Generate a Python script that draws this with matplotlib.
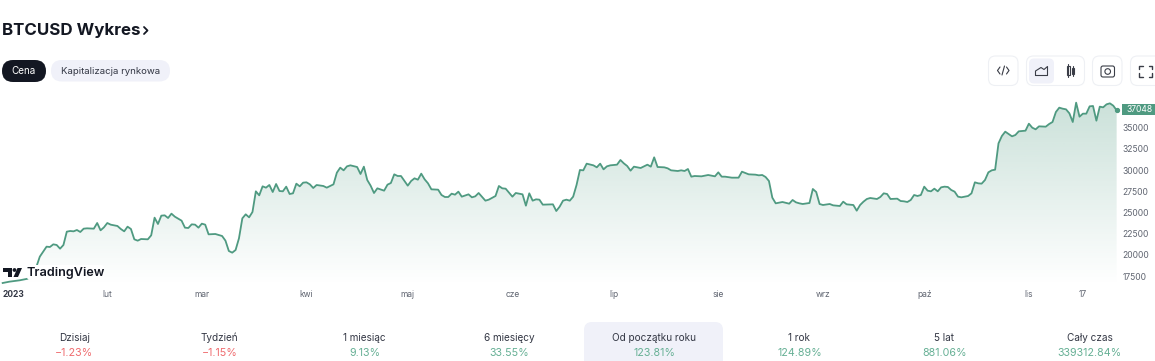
import numpy as np
import matplotlib
matplotlib.use("Agg")
import matplotlib.pyplot as plt
from matplotlib.patches import FancyBboxPatch, Polygon, Circle, Rectangle

plt.rcParams["font.family"] = ["Inter", "DejaVu Sans"]

# day of 2023 (1 Jan = 0) and BTCUSD price
days = [0, 2, 5, 8, 10, 11, 13, 14, 15, 16, 17, 18, 19, 20, 21, 22, 23, 24, 25, 27, 28, 29, 30, 31, 32, 34, 35, 36, 37, 38,
        39, 40, 41, 43, 44, 45, 46, 47, 48, 49, 50, 51, 53, 54, 55, 56, 57, 58, 59, 60, 61, 63, 65, 66, 67, 68, 69, 70, 71, 72,
        73, 74, 75, 76, 77, 78, 79, 80, 81, 82, 83, 84, 85, 86, 87, 88, 89, 90, 91, 92, 93, 95, 96, 98, 99, 100, 101, 102, 103, 105,
        106, 107, 108, 109, 110, 111, 113, 114, 115, 116, 117, 118, 120, 121, 122, 123, 124, 125, 126, 127, 129, 130, 131, 132, 133, 134, 135, 136, 138, 139,
        140, 141, 143, 144, 146, 147, 148, 149, 151, 152, 154, 155, 156, 157, 158, 159, 160, 163, 164, 165, 166, 167, 168, 169, 170, 171, 172, 173, 175, 176,
        177, 178, 179, 180, 182, 183, 184, 185, 186, 187, 189, 191, 192, 193, 194, 196, 197, 198, 200, 201, 202, 203, 204, 205, 207, 209, 211, 212, 213, 214,
        216, 218, 219, 220, 221, 223, 224, 225, 226, 227, 228, 229, 231, 233, 234, 235, 236, 237, 239, 240, 241, 242, 243, 245, 246, 248, 249, 250, 252, 253,
        254, 255, 256, 257, 259, 260, 261, 262, 263, 265, 266, 267, 268, 269, 270, 271, 272, 273, 274, 275, 276, 277, 278, 279, 280, 281, 282, 283, 284, 286,
        287, 288, 289, 290, 291, 292, 293, 294, 295, 296, 297, 298, 299, 300, 301, 303, 304, 305, 306, 307, 309, 310, 311, 312, 313, 314, 315, 316, 317, 318,
        319, 320, 321, 322, 323, 324, 325, 326, 327, 328, 329, 330]
prices = [16686, 16843, 17001, 17236, 18612, 19791, 20970, 20931, 21245, 21167, 20734, 21167, 22739, 22817, 22778, 22935, 22699, 23092, 23131, 23092, 23760, 22896, 23249, 23760, 23564, 23407, 23053, 22778, 23328, 23053,
          21835, 21677, 21874, 21835, 22306, 24389, 23642, 24625, 24664, 24350, 24860, 24507, 24035, 23210, 23171, 23603, 23564, 23210, 23682, 23564, 22424, 22463, 22228, 21677, 20459, 20263, 20577, 21953, 24310, 24782,
          24428, 25057, 27494, 27022, 28083, 27926, 28240, 27415, 28358, 27533, 27494, 28044, 27180, 27258, 28398, 28083, 28516, 28555, 28319, 27887, 28240, 28123, 27926, 28319, 29695, 30284, 29970, 30441, 30559, 30363,
          29537, 30402, 28830, 28162, 27297, 27847, 27572, 28280, 28476, 29498, 29302, 29302, 28162, 28712, 29027, 28869, 29577, 28909, 28437, 27730, 27690, 27061, 26826, 26826, 27219, 27101, 27455, 26865, 27140, 26786,
          26904, 27297, 26393, 26511, 26944, 28123, 27847, 27808, 26865, 27297, 27140, 25804, 27258, 26393, 26550, 26511, 25922, 25961, 25175, 25686, 26393, 26511, 26393, 26865, 28240, 30009, 29970, 30756, 30559, 30323,
          30756, 30087, 30441, 30559, 30638, 31188, 30795, 30481, 29930, 30402, 30245, 30638, 30402, 31502, 30363, 30323, 30206, 29970, 29891, 29970, 29891, 30127, 29223, 29302, 29262, 29420, 29262, 29734, 29223, 29223,
          29105, 29105, 29813, 29655, 29498, 29459, 29380, 29420, 29184, 28712, 26747, 26079, 26236, 26039, 26472, 26197, 26079, 26000, 26118, 27769, 27415, 26000, 25882, 26000, 25843, 25765, 26275, 25961, 25882, 25214,
          25882, 26275, 26590, 26708, 26590, 26826, 27258, 27180, 26590, 26629, 26354, 26315, 26236, 26472, 27061, 26944, 27061, 28044, 27572, 27494, 27808, 27494, 27965, 28044, 28005, 27651, 27455, 26865, 26786, 26944,
          27258, 28555, 28437, 28398, 28830, 29734, 29970, 30048, 33153, 34018, 34529, 34254, 33978, 34136, 34568, 34647, 35472, 35000, 34804, 35157, 35118, 35432, 35668, 36847, 37358, 37240, 37162, 36690, 35668, 37948,
          36297, 36651, 36651, 37515, 37555, 35825, 37476, 37397, 37751, 37869, 37594, 37048]

month_ticks = [0, 31, 59, 90, 120, 151, 181, 212, 243, 273, 304, 320]
month_labels = ["2023", "lut", "mar", "kwi", "maj", "cze", "lip", "sie", "wrz", "paź", "lis", "17"]
price_ticks = [17500, 20000, 22500, 25000, 27500, 30000, 32500, 35000]

stat_names = ["Dzisiaj", "Tydzień", "1 miesiąc", "6 miesięcy", "Od początku roku", "1 rok", "5 lat", "Cały czas"]
stat_values = ["−1.23%", "−1.15%", "9.13%", "33.55%", "123.81%", "124.89%", "881.06%", "339312.84%"]

GREEN = "#4f9a81"
W, H = 1155, 361

fig = plt.figure(figsize=(W / 100, H / 100), dpi=100)

# chart axes, placed in pixels
ax = fig.add_axes([0, 1 - 285 / H, 1118 / W, 185 / H])
x0, x1 = -0.79, 330.4
y0, y1 = 16450, 38262

# gradient under the line, clipped to the price area
grad = np.zeros((256, 2, 4))
grad[..., :3] = matplotlib.colors.to_rgb(GREEN)
grad[..., 3] = np.linspace(0.30, 0.0, 256)[:, None]
im = ax.imshow(grad, extent=[x0, x1, y0, y1], aspect="auto", origin="upper", zorder=1)
area = Polygon(list(zip(days, prices)) + [(days[-1], y0), (days[0], y0)], closed=True, transform=ax.transData, fc="none", ec="none")
ax.add_patch(area)
im.set_clip_path(area)

ax.plot(days, prices, color=GREEN, lw=1.3, zorder=2, solid_joinstyle="round")
ax.plot(days[-1:], prices[-1:], "o", color=GREEN, ms=2.8, zorder=3, clip_on=False)

ax.set_xlim(x0, x1)
ax.set_ylim(y0, y1)
ax.set_xticks(month_ticks)
ax.set_xticklabels(month_labels, fontsize=6.1, color="#5f6470")
ax.xaxis.get_majorticklabels()[0].set_fontweight("bold")
ax.xaxis.get_majorticklabels()[0].set_color("#333744")
ax.xaxis.get_majorticklabels()[0].set_ha("left")
ax.yaxis.tick_right()
ax.set_yticks(price_ticks)
ax.set_yticklabels([str(p) for p in price_ticks], fontsize=6.1, color="#5f6470")
ax.tick_params(length=0, axis="x", pad=3.5)
ax.tick_params(length=0, axis="y", pad=3)
for s in ax.spines.values():
    s.set_visible(False)
ax.patch.set_alpha(0)

# overlay in figure pixels for the page furniture
ui = fig.add_axes([0, 0, 1, 1], zorder=5)
ui.set_xlim(0, W)
ui.set_ylim(H, 0)
ui.axis("off")


def box(x, y, w, h, r, fc, ec="none", lw=0.8):
    ui.add_patch(FancyBboxPatch((x + r, y + r), w - 2 * r, h - 2 * r, boxstyle=f"round,pad={r}", fc=fc, ec=ec, lw=lw, clip_on=True))


def stroke(xs, ys, lw=0.8, color="#3a3d47"):
    ui.plot(xs, ys, color=color, lw=lw, solid_capstyle="round", solid_joinstyle="round")


ui.text(2, 30.5, "BTCUSD Wykres", fontsize=12.2, fontweight="bold", color="#131722", va="center", ha="left")
stroke([144, 147.5, 144], [27, 30.5, 34], lw=1.3, color="#131722")

box(2, 60, 44, 22, 11, "#131722")
ui.text(24, 71, "Cena", fontsize=7.1, color="white", ha="center", va="center")
box(51, 60, 119, 21.5, 10.7, "#f0f1f9")
ui.text(110.5, 71, "Kapitalizacja rynkowa", fontsize=6.95, color="#333744", ha="center", va="center")

# toolbar
border = "#eef0f4"
box(988.5, 56, 29.5, 29.5, 7, "white", border)
box(1026.5, 56, 58, 29.5, 7, "white", border)
box(1029, 58.5, 25, 25, 5, "#f0f1f9")
box(1092.5, 56, 29.5, 29.5, 7, "white", border)
box(1130.5, 56, 40, 29.5, 7, "white", border)
stroke([1000, 997.5, 1000], [67, 70.5, 74])
stroke([1006.5, 1009, 1006.5], [67, 70.5, 74])
stroke([1002, 1004.5], [75, 66])
stroke([1035.5, 1035.5, 1041, 1044, 1047.5, 1047.5, 1035.5], [75.5, 71, 67.5, 69.5, 66.5, 75.5, 75.5])
ui.add_patch(Rectangle((1066.5, 66), 3, 9, fc="none", ec="#3a3d47", lw=0.8))
stroke([1068, 1068], [64, 77])
ui.add_patch(Rectangle((1071.5, 68), 2.8, 5.5, fc="none", ec="#3a3d47", lw=0.8))
stroke([1073, 1073], [65.5, 76])
box(1101, 66, 13.5, 11, 2, "none", "#3a3d47")
ui.add_patch(Circle((1107.7, 71.5), 2.8, fc="none", ec="#3a3d47", lw=0.8))
stroke([1139, 1139, 1142.5], [69, 65.5, 65.5], lw=1.0)
stroke([1148.5, 1152, 1152], [65.5, 65.5, 69], lw=1.0)
stroke([1139, 1139, 1142.5], [73, 76.5, 76.5], lw=1.0)
stroke([1148.5, 1152, 1152], [76.5, 76.5, 73], lw=1.0)

# last price tag
ui.add_patch(Rectangle((1122, 104), 33, 11, fc=GREEN, ec="none"))
ui.text(1140, 109.8, str(prices[-1]), fontsize=6.1, color="white", ha="center", va="center")

# TradingView logo
box(27, 265, 77, 15, 3, "white")
ui.add_patch(Polygon([(3, 268), (12, 268), (12, 277), (8, 277), (8, 272), (3, 272)], closed=True, fc="#131722", ec="none"))
ui.add_patch(Circle((14.5, 270), 1.9, fc="#131722", ec="none"))
ui.add_patch(Polygon([(17.5, 268), (22, 268), (18, 277), (13.5, 277)], closed=True, fc="#131722", ec="none"))
ui.text(26.5, 273, "TradingView", fontsize=9.1, fontweight="semibold", color="#131722", ha="left", va="center")

# period returns row
ui.add_patch(FancyBboxPatch((592, 330), 123, 40, boxstyle="round,pad=8", fc="#f0f1f9", ec="none"))
for i, (name, val) in enumerate(zip(stat_names, stat_values)):
    cx = 74.5 + 145 * i
    col = "#ef6b6e" if val.startswith("−") else "#66b095"
    ui.text(cx, 338, name, fontsize=7.2, color="#333744", ha="center", va="center")
    ui.text(cx, 353, val, fontsize=7.7, color=col, ha="center", va="center")

fig.savefig("out.png", dpi=100)
plt.close(fig)
